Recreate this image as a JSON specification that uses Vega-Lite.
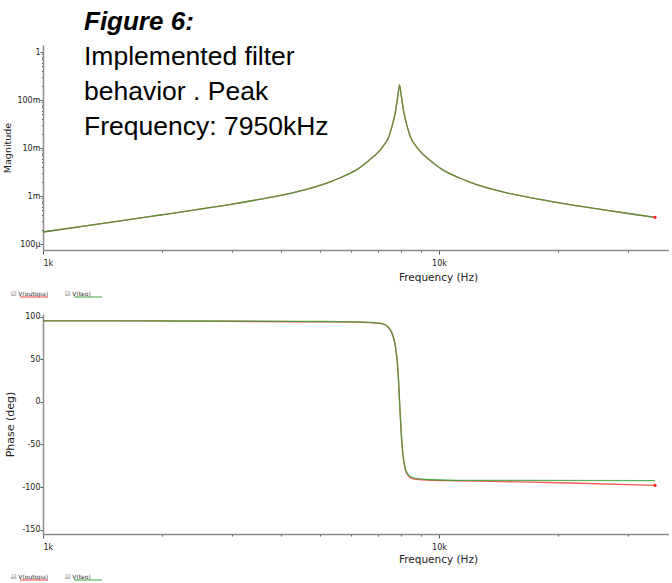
{
  "$schema": "https://vega.github.io/schema/vega-lite/v6.json",
  "background": "white",
  "padding": {"left": 2, "top": 8, "right": 0, "bottom": 0},
  "spacing": 12,
  "config": {
    "view": {"stroke": null},
    "font": "DejaVu Sans",
    "axis": {
      "grid": false,
      "domainColor": "#8c8c8c",
      "domainWidth": 1.5,
      "tickColor": "#555555",
      "tickSize": 3,
      "labelFont": "DejaVu Sans",
      "labelFontSize": 8,
      "labelColor": "#222222",
      "labelPadding": 0,
      "titleFont": "DejaVu Sans",
      "titleFontSize": 10,
      "titleFontWeight": "normal",
      "titleColor": "#222222"
    },
    "legend": {
      "orient": "none",
      "direction": "horizontal",
      "title": null,
      "symbolType": "stroke",
      "symbolSize": 784,
      "symbolStrokeWidth": 1.5,
      "symbolOpacity": 0.6,
      "labelFont": "DejaVu Sans",
      "labelFontSize": 6,
      "labelColor": "#333333",
      "labelBaseline": "bottom",
      "labelOffset": -38,
      "columnPadding": 14
    }
  },
  "datasets": {
    "mag": [
      {"f": 1000, "series": "V(outopa)", "v": 0.000178},
      {"f": 1320, "series": "V(outopa)", "v": 0.000248},
      {"f": 1801, "series": "V(outopa)", "v": 0.000359},
      {"f": 2002, "series": "V(outopa)", "v": 0.000407},
      {"f": 2424, "series": "V(outopa)", "v": 0.000513},
      {"f": 2955, "series": "V(outopa)", "v": 0.000661},
      {"f": 3577, "series": "V(outopa)", "v": 0.000871},
      {"f": 4340, "series": "V(outopa)", "v": 0.001202},
      {"f": 5291, "series": "V(outopa)", "v": 0.00195},
      {"f": 5630, "series": "V(outopa)", "v": 0.002399},
      {"f": 6202, "series": "V(outopa)", "v": 0.003548},
      {"f": 6405, "series": "V(outopa)", "v": 0.004266},
      {"f": 6654, "series": "V(outopa)", "v": 0.005495},
      {"f": 7056, "series": "V(outopa)", "v": 0.008511},
      {"f": 7253, "series": "V(outopa)", "v": 0.01135},
      {"f": 7448, "series": "V(outopa)", "v": 0.01622},
      {"f": 7604, "series": "V(outopa)", "v": 0.02754},
      {"f": 7760, "series": "V(outopa)", "v": 0.05623},
      {"f": 7880, "series": "V(outopa)", "v": 0.1259},
      {"f": 7953, "series": "V(outopa)", "v": 0.2054},
      {"f": 8027, "series": "V(outopa)", "v": 0.1259},
      {"f": 8151, "series": "V(outopa)", "v": 0.05623},
      {"f": 8318, "series": "V(outopa)", "v": 0.02754},
      {"f": 8492, "series": "V(outopa)", "v": 0.01622},
      {"f": 8720, "series": "V(outopa)", "v": 0.01135},
      {"f": 8965, "series": "V(outopa)", "v": 0.008511},
      {"f": 9506, "series": "V(outopa)", "v": 0.005495},
      {"f": 9875, "series": "V(outopa)", "v": 0.004266},
      {"f": 10198, "series": "V(outopa)", "v": 0.003548},
      {"f": 11234, "series": "V(outopa)", "v": 0.002399},
      {"f": 11954, "series": "V(outopa)", "v": 0.00195},
      {"f": 14572, "series": "V(outopa)", "v": 0.001202},
      {"f": 17682, "series": "V(outopa)", "v": 0.000871},
      {"f": 21406, "series": "V(outopa)", "v": 0.000661},
      {"f": 26094, "series": "V(outopa)", "v": 0.000513},
      {"f": 31588, "series": "V(outopa)", "v": 0.000407},
      {"f": 35118, "series": "V(outopa)", "v": 0.000359},
      {"f": 1000, "series": "V(teo)", "v": 0.000178},
      {"f": 1320, "series": "V(teo)", "v": 0.000248},
      {"f": 1801, "series": "V(teo)", "v": 0.000359},
      {"f": 2002, "series": "V(teo)", "v": 0.000407},
      {"f": 2424, "series": "V(teo)", "v": 0.000513},
      {"f": 2955, "series": "V(teo)", "v": 0.000661},
      {"f": 3577, "series": "V(teo)", "v": 0.000871},
      {"f": 4340, "series": "V(teo)", "v": 0.001202},
      {"f": 5291, "series": "V(teo)", "v": 0.00195},
      {"f": 5630, "series": "V(teo)", "v": 0.002399},
      {"f": 6202, "series": "V(teo)", "v": 0.003548},
      {"f": 6405, "series": "V(teo)", "v": 0.004266},
      {"f": 6654, "series": "V(teo)", "v": 0.005495},
      {"f": 7056, "series": "V(teo)", "v": 0.008511},
      {"f": 7253, "series": "V(teo)", "v": 0.01135},
      {"f": 7448, "series": "V(teo)", "v": 0.01622},
      {"f": 7604, "series": "V(teo)", "v": 0.02754},
      {"f": 7760, "series": "V(teo)", "v": 0.05623},
      {"f": 7880, "series": "V(teo)", "v": 0.1259},
      {"f": 7953, "series": "V(teo)", "v": 0.2054},
      {"f": 8027, "series": "V(teo)", "v": 0.1259},
      {"f": 8151, "series": "V(teo)", "v": 0.05623},
      {"f": 8318, "series": "V(teo)", "v": 0.02754},
      {"f": 8492, "series": "V(teo)", "v": 0.01622},
      {"f": 8720, "series": "V(teo)", "v": 0.01135},
      {"f": 8965, "series": "V(teo)", "v": 0.008511},
      {"f": 9506, "series": "V(teo)", "v": 0.005495},
      {"f": 9875, "series": "V(teo)", "v": 0.004266},
      {"f": 10198, "series": "V(teo)", "v": 0.003548},
      {"f": 11234, "series": "V(teo)", "v": 0.002399},
      {"f": 11954, "series": "V(teo)", "v": 0.00195},
      {"f": 14572, "series": "V(teo)", "v": 0.001202},
      {"f": 17682, "series": "V(teo)", "v": 0.000871},
      {"f": 21406, "series": "V(teo)", "v": 0.000661},
      {"f": 26094, "series": "V(teo)", "v": 0.000513},
      {"f": 31588, "series": "V(teo)", "v": 0.000407},
      {"f": 35118, "series": "V(teo)", "v": 0.000359}
    ],
    "phase": [
      {"f": 1000, "series": "V(outopa)", "v": 95.0},
      {"f": 2448, "series": "V(outopa)", "v": 94.6},
      {"f": 4386, "series": "V(outopa)", "v": 93.9},
      {"f": 6209, "series": "V(outopa)", "v": 93.4},
      {"f": 7153, "series": "V(outopa)", "v": 91.6},
      {"f": 7446, "series": "V(outopa)", "v": 87.5},
      {"f": 7624, "series": "V(outopa)", "v": 79.3},
      {"f": 7760, "series": "V(outopa)", "v": 65.2},
      {"f": 7880, "series": "V(outopa)", "v": 36.0},
      {"f": 7953, "series": "V(outopa)", "v": -0.5},
      {"f": 8024, "series": "V(outopa)", "v": -34.5},
      {"f": 8119, "series": "V(outopa)", "v": -64.5},
      {"f": 8215, "series": "V(outopa)", "v": -78.8},
      {"f": 8359, "series": "V(outopa)", "v": -86.5},
      {"f": 8606, "series": "V(outopa)", "v": -90.3},
      {"f": 9345, "series": "V(outopa)", "v": -91.8},
      {"f": 11135, "series": "V(outopa)", "v": -92.6},
      {"f": 15717, "series": "V(outopa)", "v": -93.9},
      {"f": 21420, "series": "V(outopa)", "v": -95.2},
      {"f": 35118, "series": "V(outopa)", "v": -97.9},
      {"f": 1000, "series": "V(teo)", "v": 95.0},
      {"f": 2448, "series": "V(teo)", "v": 94.8},
      {"f": 4386, "series": "V(teo)", "v": 94.4},
      {"f": 6209, "series": "V(teo)", "v": 93.8},
      {"f": 7153, "series": "V(teo)", "v": 92.0},
      {"f": 7446, "series": "V(teo)", "v": 87.9},
      {"f": 7624, "series": "V(teo)", "v": 79.7},
      {"f": 7760, "series": "V(teo)", "v": 65.6},
      {"f": 7880, "series": "V(teo)", "v": 36.3},
      {"f": 7953, "series": "V(teo)", "v": 0.0},
      {"f": 8024, "series": "V(teo)", "v": -34.0},
      {"f": 8119, "series": "V(teo)", "v": -63.5},
      {"f": 8215, "series": "V(teo)", "v": -77.6},
      {"f": 8359, "series": "V(teo)", "v": -85.2},
      {"f": 8606, "series": "V(teo)", "v": -89.3},
      {"f": 9345, "series": "V(teo)", "v": -91.1},
      {"f": 11135, "series": "V(teo)", "v": -92.0},
      {"f": 15717, "series": "V(teo)", "v": -92.2},
      {"f": 35118, "series": "V(teo)", "v": -92.3}
    ]
  },
  "vconcat": [
    {
      "width": 626,
      "height": 205,
      "title": {
        "text": "Figure 6:",
        "subtitle": ["Implemented filter", "behavior . Peak", "Frequency: 7950kHz"],
        "anchor": "start",
        "frame": "group",
        "orient": "top",
        "offset": -95,
        "dx": 41,
        "font": "Liberation Sans",
        "fontSize": 26,
        "fontWeight": "bold",
        "fontStyle": "italic",
        "color": "#000000",
        "subtitleFont": "Liberation Sans",
        "subtitleFontSize": 26.5,
        "subtitleColor": "#000000",
        "subtitleLineHeight": 35,
        "subtitlePadding": 9
      },
      "data": {"name": "mag"},
      "layer": [
        {
          "mark": {"type": "line", "strokeWidth": 1.3, "interpolate": "monotone", "strokeOpacity": 0.8},
          "encoding": {
            "x": {
              "field": "f", "type": "quantitative",
              "scale": {"type": "log", "domain": [1000, 38100], "nice": false},
              "axis": {
                "title": "Frequency (Hz)",
                "titleFontSize": 10.5,
                "titleX": 395,
                "values": [1000, 2000, 3000, 4000, 5000, 6000, 7000, 8000, 9000, 10000, 20000, 30000],
                "labelExpr": "datum.value == 1000 ? '1k' : datum.value == 10000 ? '10k' : ''",
                "labelFlush": true,
                "labelPadding": 5,
                "tickSize": {"condition": {"test": "datum.value == 1000 || datum.value == 10000", "value": 4}, "value": 2},
                "titlePadding": 5
              }
            },
            "y": {
              "field": "v", "type": "quantitative",
              "scale": {"type": "log", "domain": [0.000075, 1.4], "nice": false},
              "axis": {
                "title": "Magnitude",
                "titleFontSize": 9.5,
                "values": [0.0001, 0.0002, 0.0003, 0.0004, 0.0005, 0.0006, 0.0007, 0.0008, 0.0009, 0.001, 0.002, 0.003, 0.004, 0.005, 0.006, 0.007, 0.008, 0.009, 0.01, 0.02, 0.03, 0.04, 0.05, 0.06, 0.07, 0.08, 0.09, 0.1, 0.2, 0.3, 0.4, 0.5, 0.6, 0.7, 0.8, 0.9, 1],
                "labelExpr": "datum.value == 1 ? '1' : datum.value == 0.1 ? '100m' : datum.value == 0.01 ? '10m' : datum.value == 0.001 ? '1m' : datum.value == 0.0001 ? '100µ' : ''",
                "tickSize": {"condition": {"test": "datum.value == 1 || datum.value == 0.1 || datum.value == 0.01 || datum.value == 0.001 || datum.value == 0.0001", "value": 3}, "value": 1.5},
                "titlePadding": 4
              }
            },
            "color": {
              "field": "series", "type": "nominal",
              "scale": {"domain": ["V(outopa)", "V(teo)"], "range": ["#f03030", "#2f9e2f"]},
              "legend": {"legendX": -24, "legendY": 237, "labelExpr": "'☑ ' + datum.label"}
            }
          }
        },
        {
          "transform": [{"filter": "datum.series == 'V(outopa)' && datum.f == 35118"}],
          "mark": {"type": "point", "filled": true, "size": 10, "color": "#ff2020", "opacity": 1},
          "encoding": {
            "x": {"field": "f", "type": "quantitative"},
            "y": {"field": "v", "type": "quantitative"}
          }
        }
      ]
    },
    {
      "width": 626,
      "height": 220,
      "data": {"name": "phase"},
      "layer": [
        {
          "mark": {"type": "line", "strokeWidth": 1.3, "interpolate": "monotone", "strokeOpacity": 0.8},
          "encoding": {
            "x": {
              "field": "f", "type": "quantitative",
              "scale": {"type": "log", "domain": [1000, 38100], "nice": false},
              "axis": {
                "title": "Frequency (Hz)",
                "titleFontSize": 10.5,
                "titleX": 395,
                "values": [1000, 2000, 3000, 4000, 5000, 6000, 7000, 8000, 9000, 10000, 20000, 30000],
                "labelExpr": "datum.value == 1000 ? '1k' : datum.value == 10000 ? '10k' : ''",
                "labelFlush": true,
                "labelPadding": 5,
                "tickSize": {"condition": {"test": "datum.value == 1000 || datum.value == 10000", "value": 4}, "value": 2},
                "titlePadding": 3
              }
            },
            "y": {
              "field": "v", "type": "quantitative",
              "scale": {"domain": [-155, 103], "nice": false, "zero": false},
              "axis": {
                "title": "Phase (deg)",
                "titleFontSize": 11,
                "values": [-150, -100, -50, 0, 50, 100],
                "labelExpr": "replace(datum.label, '−', '-')",
                "tickSize": 3,
                "titlePadding": 6
              }
            },
            "color": {
              "field": "series", "type": "nominal",
              "scale": {"domain": ["V(outopa)", "V(teo)"], "range": ["#f03030", "#2f9e2f"]},
              "legend": {"legendX": -24, "legendY": 251, "labelExpr": "'☑ ' + datum.label"}
            }
          }
        },
        {
          "transform": [{"filter": "datum.series == 'V(outopa)' && datum.f == 35118"}],
          "mark": {"type": "point", "filled": true, "size": 10, "color": "#ff2020", "opacity": 1},
          "encoding": {
            "x": {"field": "f", "type": "quantitative"},
            "y": {"field": "v", "type": "quantitative"}
          }
        }
      ]
    }
  ],
  "resolve": {"scale": {"color": "independent"}, "legend": {"color": "independent"}}
}
